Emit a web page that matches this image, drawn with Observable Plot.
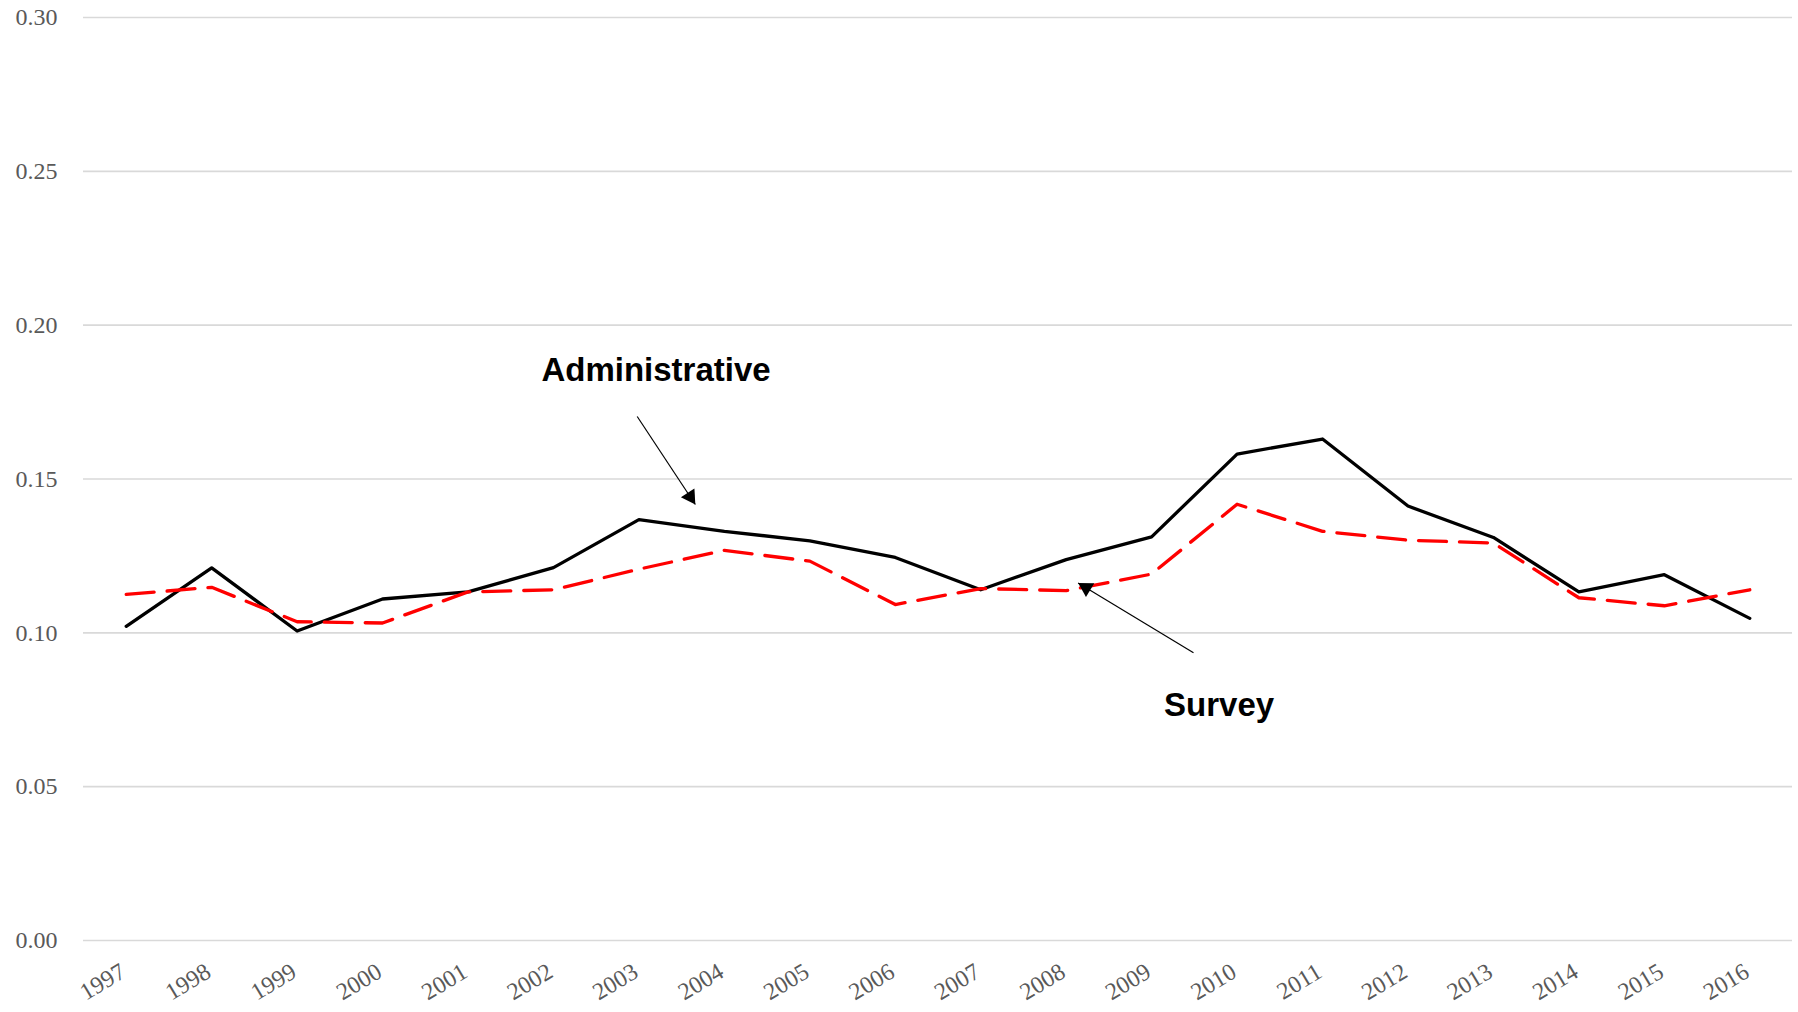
<!DOCTYPE html>
<html><head><meta charset="utf-8">
<script src="https://cdn.jsdelivr.net/npm/d3@7"></script>
<script src="https://cdn.jsdelivr.net/npm/@observablehq/plot@0.6"></script>
<style>html,body{margin:0;padding:0;background:#fff} svg{display:block}</style>
</head><body><div id="chart"></div>
<script>
const years = [1997,1998,1999,2000,2001,2002,2003,2004,2005,2006,2007,2008,2009,2010,2011,2012,2013,2014,2015,2016];
const administrative = [0.1021,0.1211,0.1006,0.1110,0.1133,0.1212,0.1368,0.1330,0.1299,0.1245,0.1140,0.1238,0.1312,0.1581,0.1630,0.1412,0.1310,0.1133,0.1189,0.1047];
const survey = [0.1125,0.1148,0.1036,0.1032,0.1133,0.1140,0.1207,0.1268,0.1233,0.1092,0.1144,0.1137,0.1191,0.1418,0.1330,0.1301,0.1292,0.1114,0.1088,0.1140];
const yTicks = [0, 0.05, 0.10, 0.15, 0.20, 0.25, 0.30];
const labelText = ["Administrative", "Survey"];
const labelX = [2003.20, 2009.79];
const labelY = [0.1853, 0.0764];
const arrowX1 = [2002.98, 2009.49];
const arrowY1 = [0.1703, 0.0935];
const arrowX2 = [2003.66, 2008.14];
const arrowY2 = [0.1417, 0.1162];

const adminData = years.map((y, i) => ({year: y, value: administrative[i]}));
const surveyData = years.map((y, i) => ({year: y, value: survey[i]}));
const labels = labelText.map((t, i) => ({text: t, x: labelX[i], y: labelY[i]}));
const arrows = arrowX1.map((x, i) => ({x1: x, y1: arrowY1[i], x2: arrowX2[i], y2: arrowY2[i]}));

const plot = Plot.plot({
  width: 1798,
  height: 1012,
  marginLeft: 83,
  marginRight: 6,
  marginTop: 17,
  marginBottom: 72,
  style: {background: "#fff", overflow: "visible"},
  x: {type: "linear", domain: [1996.5, 2016.5]},
  y: {domain: [0, 0.3]},
  marks: [
    Plot.ruleY(yTicks, {stroke: "#d9d9d9", strokeWidth: 1.6}),
    Plot.axisY({ticks: yTicks, tickFormat: d3.format(".2f"), tickSize: 0, tickPadding: 26, fontSize: 24, fontFamily: "Liberation Serif", color: "#595959", label: null}),
    Plot.axisX({ticks: years, tickFormat: d => String(d), tickSize: 0, tickPadding: 29, tickRotate: -31, textAnchor: "end", fontSize: 24, fontFamily: "Liberation Serif", color: "#595959", label: null, dx: -3}),
    Plot.line(adminData, {x: "year", y: "value", stroke: "#000", strokeWidth: 3.3, strokeLinejoin: "round"}),
    Plot.line(surveyData, {x: "year", y: "value", stroke: "#ff0000", strokeWidth: 3.3, strokeDasharray: "28,13", strokeLinejoin: "round"}),
    Plot.link(arrows, {x1: "x1", y1: "y1", x2: "x2", y2: "y2", stroke: "#000", strokeWidth: 1.2}),
    Plot.dot(arrows.slice(0, 1), {x: "x2", y: "y2", symbol: "triangle", r: 6, fill: "#000", stroke: null, rotate: 146.5, dx: -5.1, dy: -7.8}),
    Plot.dot(arrows.slice(1, 2), {x: "x2", y: "y2", symbol: "triangle", r: 6, fill: "#000", stroke: null, rotate: -59, dx: 8.0, dy: 4.8}),
    Plot.text(labels, {x: "x", y: "y", text: "text", fontSize: 33, fontWeight: "bold", fontFamily: "Liberation Sans", fill: "#000", lineAnchor: "middle"})
  ]
});

document.getElementById("chart").appendChild(plot);
</script>
</body></html>
